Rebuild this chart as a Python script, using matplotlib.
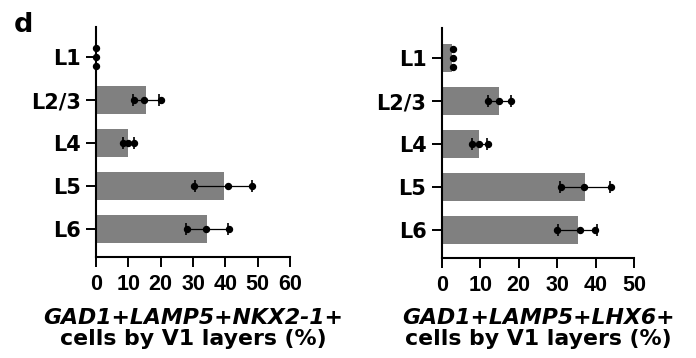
import numpy as np
import matplotlib
matplotlib.use("Agg")
import matplotlib.pyplot as plt
import matplotlib.transforms as mtransforms
from matplotlib import font_manager

layers = ["L1", "L2/3", "L4", "L5", "L6"]

# GAD1+LAMP5+NKX2-1+ (left panel)
nkx_mean = [0.0, 15.5, 10.0, 39.5, 34.2]
nkx_sd = [0.0, 4.0, 1.8, 8.9, 6.5]
nkx_points = [[0.0, 0.0, 0.0],
              [11.9, 14.7, 20.0],
              [8.3, 10.0, 11.9],
              [30.3, 40.9, 48.1],
              [28.0, 33.9, 41.0]]

# GAD1+LAMP5+LHX6+ (right panel)
lhx_mean = [2.7, 14.9, 9.8, 37.3, 35.3]
lhx_sd = [0.0, 3.0, 2.0, 6.5, 5.1]
lhx_points = [[2.9, 2.9, 2.9],
              [11.9, 14.9, 17.9],
              [7.8, 9.8, 11.9],
              [30.9, 37.0, 43.9],
              [29.9, 35.9, 39.9]]

nkx_ticks = [0, 10, 20, 30, 40, 50, 60]
lhx_ticks = [0, 10, 20, 30, 40, 50]

# narrow font for the x tick numbers if we have it
names = set(f.name for f in font_manager.fontManager.ttflist)
if "Liberation Sans Narrow" in names:
    tick_font = "Liberation Sans Narrow"
    tick_size = 16
else:
    tick_font = "Liberation Sans"
    tick_size = 15.5

plt.rcParams["font.family"] = "DejaVu Sans"
plt.rcParams["font.weight"] = "bold"

fig = plt.figure(figsize=(6.96, 3.58), dpi=100)
W, H = 696.0, 358.0


def panel(rect, mean, sd, pts, ticks, xmax, gene_text):
    ax = fig.add_axes(rect)
    y = np.arange(len(layers))
    ax.barh(y, mean, height=0.65, color="#808080", zorder=1)
    for i in range(len(layers)):
        vals = np.array(pts[i])
        if np.ptp(vals) == 0:
            yy = y[i] + np.array([-0.21, 0.0, 0.21])
        else:
            yy = np.full(len(vals), y[i], dtype=float)
        if sd[i] > 0:
            ax.errorbar(mean[i], y[i], xerr=sd[i], fmt="none", ecolor="black",
                        elinewidth=0.9, capsize=4.3, capthick=1.2, zorder=2)
        ax.plot(vals, yy, "o", color="black", markersize=4.3, zorder=3,
                clip_on=False)
    ax.set_ylim(4.65, -0.70)
    ax.set_xlim(0, xmax)
    ax.set_yticks(y)
    ax.set_yticklabels(layers, fontsize=15, fontweight="bold")
    ax.set_xticks(ticks)
    ax.set_xticklabels([str(t) for t in ticks], family=tick_font,
                       fontsize=tick_size, fontweight="bold")
    for s in ["top", "right"]:
        ax.spines[s].set_visible(False)
    for s in ["left", "bottom"]:
        ax.spines[s].set_linewidth(1.5)
    ax.tick_params(axis="both", length=7, width=1.4, color="black")
    ax.tick_params(axis="y", pad=4)
    ax.tick_params(axis="x", pad=5)
    tr = mtransforms.blended_transform_factory(ax.transAxes, fig.transFigure)
    ax.text(0.5, 1 - 324 / H, gene_text, transform=tr, ha="center",
            va="baseline", fontsize=15.8, fontweight="bold", style="italic")
    ax.text(0.5, 1 - 345 / H, "cells by V1 layers (%)", transform=tr,
            ha="center", va="baseline", fontsize=15.8, fontweight="bold")
    return ax


panel([96 / W, 1 - 257 / H, 194 / W, 230 / H], nkx_mean, nkx_sd, nkx_points,
      nkx_ticks, 60, "GAD1+LAMP5+NKX2-1+")
panel([441.7 / W, 1 - 258 / H, 192.6 / W, 230 / H], lhx_mean, lhx_sd,
      lhx_points, lhx_ticks, 50, "GAD1+LAMP5+LHX6+")

fig.text(14 / W, 1 - 12 / H, "d", ha="left", va="top", fontsize=19.5,
         fontweight="bold")

plt.savefig("out.png", dpi=100)
